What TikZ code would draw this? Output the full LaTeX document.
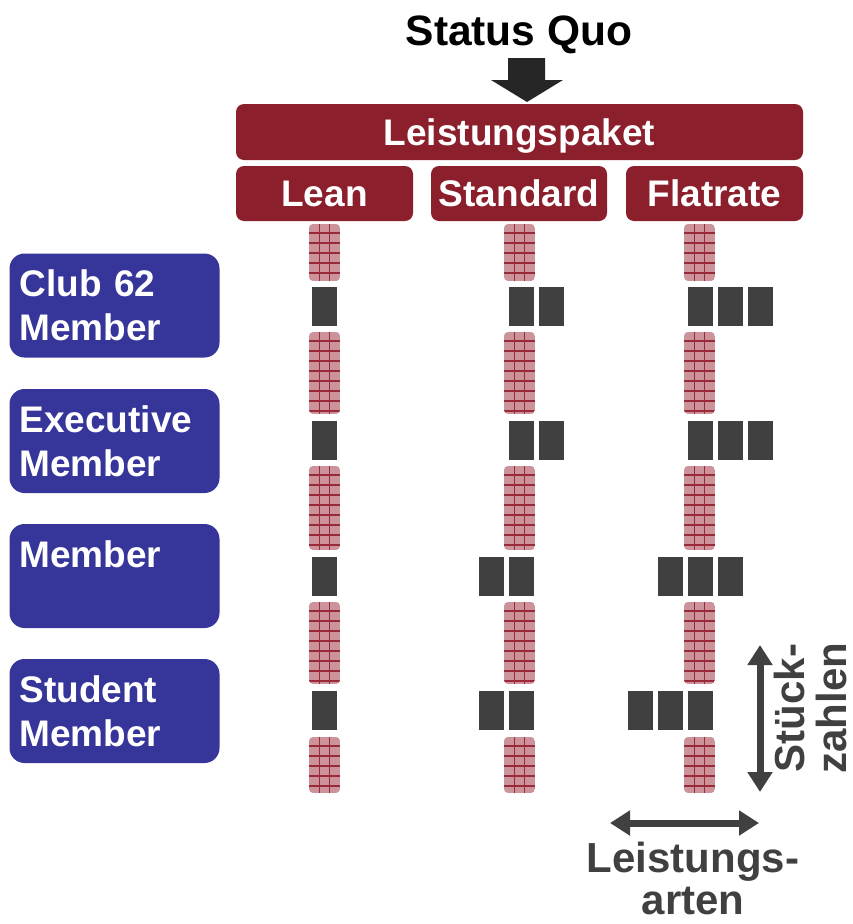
\documentclass[tikz,border=0pt]{standalone}
\usepackage{fontspec}
\setmainfont{Liberation Sans}
\usetikzlibrary{arrows.meta}
\definecolor{dred}{HTML}{8B1F2B}
\definecolor{mblue}{HTML}{35359A}
\definecolor{dgray}{HTML}{404040}
\definecolor{nblack}{HTML}{262626}
\definecolor{pinkf}{HTML}{CC939B}
\definecolor{gridc}{HTML}{9A2A3A}
\tikzset{
  redbox/.style={fill=dred, rounded corners=8pt, text=white, font=\bfseries\fontsize{37}{44}\selectfont, inner sep=0pt, text height=27pt, text depth=1pt},
  bluebox/.style={fill=mblue, rounded corners=15pt, text=white, font=\bfseries\fontsize{37}{44}\selectfont,
     minimum width=210pt, minimum height=104pt, text width=190pt, align=left, inner xsep=10pt, inner ysep=0pt},
  blockfill/.style={fill=dgray},
  dblarrow/.style={draw=dgray, line width=7pt, {Triangle[width=24pt,length=20pt]}-{Triangle[width=24pt,length=20pt]}},
  labeltext/.style={text=dgray, font=\bfseries\fontsize{42}{42}\selectfont, align=center, inner sep=0pt}
}
\newcommand{\colseg}[3]{%
  \begin{scope}
    \path[clip, rounded corners=4pt] (#1,#2) rectangle (#1+31,#3);
    \fill[pinkf] (#1,#2) rectangle (#1+31,#3);
    \foreach \k in {0,...,8}{\draw[gridc, line width=1.1pt] (#1,#2+9+10*\k) -- (#1+31,#2+9+10*\k);}
    \draw[gridc, line width=1.1pt] (#1+10.5,#2) -- (#1+10.5,#3) (#1+20.5,#2) -- (#1+20.5,#3);
  \end{scope}}
\newcommand{\blk}[2]{\fill[blockfill] (#1,#2) rectangle (#1+25,#2+39);}
\begin{document}
\begin{tikzpicture}[x=1pt,y=-1pt]
\useasboundingbox (0,0) rectangle (853,924);

% title and arrow
\node[font=\bfseries\fontsize{42.5}{44}\selectfont, text=black, inner sep=0pt] (sq) at (519,35) {Status Quo};
\fill[nblack] (508,58) -- (545,58) -- (545,80) -- (563,80) -- (527,102) -- (491,80) -- (508,80) -- cycle;

% header boxes
\node[redbox, minimum width=567pt, minimum height=56pt] (lp) at (519.5,132) {Leistungspaket};
\node[redbox, minimum width=177pt, minimum height=55pt] (lean) at (324.5,193.5) {Lean};
\node[redbox, minimum width=176pt, minimum height=55pt] (std) at (519,193.5) {Standard};
\node[redbox, minimum width=177pt, minimum height=55pt] (flat) at (714.5,193.5) {Flatrate};

% member boxes
\node[bluebox] (m1) at (114.5,305.5) {Club 62\\Member};
\node[bluebox] (m2) at (114.5,441) {Executive\\Member};
\node[bluebox] (m3) at (114.5,576) {Member\\\phantom{M}};
\node[bluebox] (m4) at (114.5,711) {Student\\Member};

% columns
\foreach \cx in {309,504,684}{
  \colseg{\cx}{224}{281}
  \colseg{\cx}{332}{414}
  \colseg{\cx}{466}{550}
  \colseg{\cx}{602}{684}
  \colseg{\cx}{737}{793}
}

% blocks
\foreach \ry in {287,421,557,691}{\blk{312}{\ry}}
\foreach \ry in {287,421}{\blk{509}{\ry}\blk{539}{\ry}\blk{688}{\ry}\blk{718}{\ry}\blk{748}{\ry}}
\blk{479}{557}\blk{509}{557}\blk{658}{557}\blk{688}{557}\blk{718}{557}
\blk{479}{691}\blk{509}{691}\blk{628}{691}\blk{658}{691}\blk{688}{691}

% axes
\coordinate (vtop) at (760,645);
\coordinate (vbot) at (760,792);
\coordinate (hl) at (610,823);
\coordinate (hr) at (759,823);
\draw[dblarrow] (vtop) -- (vbot);
\draw[dblarrow] (hl) -- (hr);
\node[labeltext, rotate=90] (stz) at (810,708) {Stück-\\zahlen};
\node[labeltext] (la) at (693,878) {Leistungs-\\arten};
\end{tikzpicture}
\end{document}
